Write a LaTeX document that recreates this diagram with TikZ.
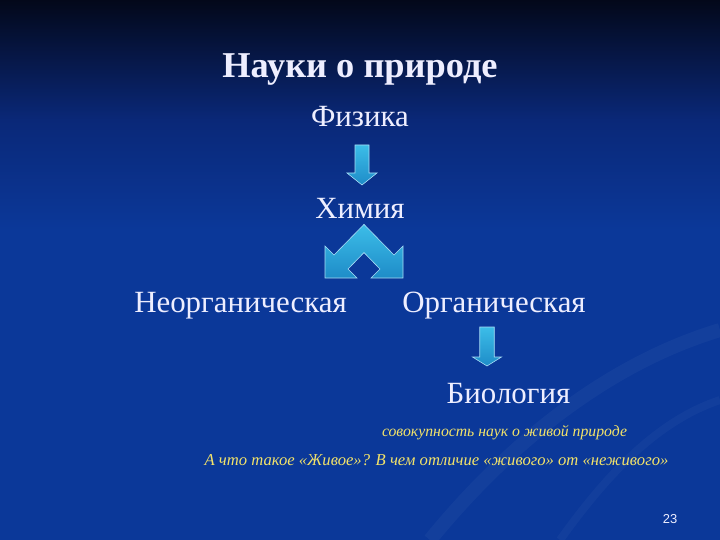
\documentclass[tikz,border=0pt]{standalone}
\usepackage{fontspec}
\setmainfont{Liberation Serif}
\setsansfont{Liberation Sans}
\definecolor{bgtop}{HTML}{03081A}
\definecolor{bgmid}{HTML}{0A2878}
\definecolor{bgblue}{HTML}{0B3899}
\definecolor{txtwhite}{HTML}{EEEEFF}
\definecolor{notegold}{HTML}{F2E26A}
\definecolor{arrowtop}{HTML}{3CBDE8}
\definecolor{arrowbot}{HTML}{1E8CC8}
\definecolor{arrowedge}{HTML}{A8DDF5}
% block arrow pointing down: centre x, top y, head y, tip y, shaft half, head half
\newcommand{\dnarrow}[6]{%
  \shadedraw[blockarrow] (#1-#5,#2) -- (#1+#5,#2) -- (#1+#5,#3) -- (#1+#6,#3)
    -- (#1,#4) -- (#1-#6,#3) -- (#1-#5,#3) -- cycle;}
\begin{document}
\begin{tikzpicture}[x=1bp, y=-1bp,
  lbl/.style={text=txtwhite, anchor=base, inner sep=0pt, font=\fontsize{31}{34}\selectfont},
  note/.style={text=notegold, anchor=base, inner sep=0pt, font=\itshape\fontsize{16}{18}\selectfont},
  blockarrow/.style={top color=arrowtop, bottom color=arrowbot, draw=arrowedge, line width=0.6bp, line join=miter}]
\useasboundingbox (0,0) rectangle (720,540);
% background
\fill[bgblue] (0,0) rectangle (720,540);
\shade[top color=bgtop, bottom color=bgmid] (0,0) rectangle (720,120);
\shade[top color=bgmid, bottom color=bgblue] (0,119.5) rectangle (720,230);
\draw[white, opacity=0.035, line width=14bp] (430,540) .. controls (520,430) and (620,360) .. (720,330);
\draw[white, opacity=0.03, line width=8bp] (560,540) .. controls (610,470) and (660,420) .. (720,400);

\node[lbl, font=\bfseries\fontsize{36.5}{40}\selectfont] (title) at (360,78) {Науки о природе};
\node[lbl] (phys) at (360,127) {Физика};
\node[lbl] (chem) at (360,219) {Химия};
\node[lbl] (inorg) at (240.5,312) {Неорганическая};
\node[lbl] (org) at (494,312) {Органическая};
\node[lbl] (bio) at (508.5,403) {Биология};
\node[note, font=\itshape\fontsize{15.8}{18}\selectfont] (note) at (504.5,436) {совокупность наук о живой природе};
\node[note, font=\itshape\fontsize{16.7}{18}\selectfont] (question) at (436.5,465) {А что такое «Живое»? В чем отличие «живого» от «неживого»};
\node[text=txtwhite, anchor=base, inner sep=0pt, font=\sffamily\fontsize{13}{15}\selectfont] (page) at (670,523) {23};

% physics -> chemistry
\dnarrow{362}{145}{173}{185}{7}{15}
% chemistry -> both branches
\shadedraw[blockarrow] (364,224.4) -- (334,255) -- (325,246) -- (325,278) -- (357,278)
  -- (348,269) -- (364,252.6) -- (380,269) -- (371,278) -- (403,278) -- (403,246)
  -- (394,255) -- cycle;
% organic -> biology
\dnarrow{487}{327}{357}{366}{7.25}{14.5}
\end{tikzpicture}
\end{document}
